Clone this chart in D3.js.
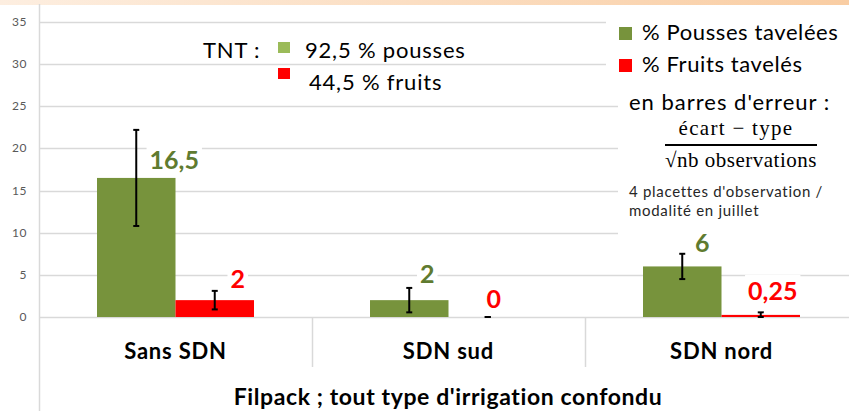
<html>
<head>
  <meta charset="utf-8">
  <script src="https://cdn.jsdelivr.net/npm/d3@7"></script>
  <style>
    body { margin: 0; background: #fff; }
    text { font-family: Lato, "Open Sans", sans-serif; }
  </style>
</head>
<body>
<script>
// categories and series
var categories = ["Sans SDN", "SDN sud", "SDN nord"];
var pousses = [16.5, 2, 6];          // % pousses tavelées
var fruits = [2, 0, 0.25];           // % fruits tavelés
var poussesErr = [5.7, 1.45, 1.5];   // écart-type / racine(nb obs)
var fruitsErr = [1.1, 0, 0.3];
var poussesLabels = ["16,5", "2", "6"];
var fruitsLabels = ["2", "0", "0,25"];
var yTicks = [0, 5, 10, 15, 20, 25, 30, 35];

// manual label nudges (dx from bar centre, dy from bar top), like the hand-moved labels in the slide
var nudgeP = [[38, -9], [18, -17], [20, -14]];
var nudgeF = [[23, -12], [6, -9], [12, -15]];

var W = 849, H = 411;
var green = "#77933c", red = "#ff0000", labelGreen = "#5f7b30", grid = "#d9d9d9";

var svg = d3.select("body").append("svg").attr("width", W).attr("height", H);

// pale orange strip at the top (slide frame)
var defs = svg.append("defs");
var grad = defs.append("linearGradient").attr("id", "topband");
grad.append("stop").attr("offset", "0%").attr("stop-color", "#fdeee0");
grad.append("stop").attr("offset", "100%").attr("stop-color", "#f9cda3");
svg.append("rect").attr("x", 0).attr("y", 0).attr("width", W).attr("height", 5).attr("fill", "url(#topband)");

var y = d3.scaleLinear().domain([0, 35]).range([317, 22]);
var x0 = d3.scaleBand().domain(categories).range([39, 858]);
var x1 = d3.scaleBand().domain(["p", "f"]).range([0, x0.bandwidth()]).paddingOuter(0.739);

// gridlines
svg.append("g").selectAll("line").data(yTicks).enter().append("line")
  .attr("x1", 39).attr("x2", W)
  .attr("y1", function (d) { return Math.round(y(d)) + 0.5; })
  .attr("y2", function (d) { return Math.round(y(d)) + 0.5; })
  .attr("stroke", grid).attr("stroke-width", 1.3);

// y tick labels
svg.append("g").selectAll("text").data(yTicks).enter().append("text")
  .attr("x", 27).attr("y", function (d) { return y(d) + 4; })
  .attr("text-anchor", "end").attr("fill", "#595959").style("font-size", "12px")
  .style("letter-spacing", "0.5px")
  .text(function (d) { return d; });

// left axis line + category separators
svg.append("line").attr("x1", 39.5).attr("x2", 39.5).attr("y1", 4).attr("y2", H)
  .attr("stroke", grid).attr("stroke-width", 1.5);
svg.append("g").selectAll("line").data(categories.slice(1)).enter().append("line")
  .attr("x1", function (d) { return x0(d) + 0.5; }).attr("x2", function (d) { return x0(d) + 0.5; })
  .attr("y1", y(0)).attr("y2", 367)
  .attr("stroke", grid).attr("stroke-width", 1.5);

// white boxes behind the legend / notes (they hide the gridlines)
svg.append("rect").attr("x", 606).attr("y", 10).attr("width", W - 606).attr("height", 78).attr("fill", "#fff");
svg.append("rect").attr("x", 618).attr("y", 88).attr("width", W - 618).attr("height", 150).attr("fill", "#fff");

// bars
var groups = svg.append("g").selectAll("g").data(categories).enter().append("g")
  .attr("transform", function (d) { return "translate(" + x0(d) + ",0)"; });

groups.append("rect")
  .attr("x", x1("p")).attr("width", x1.bandwidth())
  .attr("y", function (d, i) { return y(pousses[i]); })
  .attr("height", function (d, i) { return y(0) - y(pousses[i]); })
  .attr("fill", green);
groups.append("rect")
  .attr("x", x1("f")).attr("width", x1.bandwidth())
  .attr("y", function (d, i) { return y(fruits[i]); })
  .attr("height", function (d, i) { return y(0) - y(fruits[i]); })
  .attr("fill", red);

// error bars
function errBar(g, key, vals, errs) {
  var cx = x1(key) + x1.bandwidth() / 2;
  var e = g.append("g").attr("stroke", "#000").attr("stroke-width", 2);
  e.append("line").attr("x1", cx).attr("x2", cx)
    .attr("y1", function (d, i) { return y(vals[i] + errs[i]); })
    .attr("y2", function (d, i) { return y(Math.max(0, vals[i] - errs[i])); });
  e.append("line").attr("x1", cx - 3).attr("x2", cx + 3)
    .attr("y1", function (d, i) { return y(vals[i] + errs[i]); })
    .attr("y2", function (d, i) { return y(vals[i] + errs[i]); });
  e.append("line").attr("x1", cx - 3).attr("x2", cx + 3)
    .attr("y1", function (d, i) { return y(Math.max(0, vals[i] - errs[i])); })
    .attr("y2", function (d, i) { return y(Math.max(0, vals[i] - errs[i])); });
}
errBar(groups, "p", pousses, poussesErr);
errBar(groups, "f", fruits, fruitsErr);

// data labels with white background
function dataLabel(g, key, vals, labels, nudge, color) {
  var cx = x1(key) + x1.bandwidth() / 2;
  g.each(function (d, i) {
    var lg = d3.select(this).append("g");
    var t = lg.append("text")
      .attr("x", cx + nudge[i][0]).attr("y", y(vals[i]) + nudge[i][1])
      .attr("text-anchor", "middle").attr("fill", color)
      .style("font-size", "25px").style("font-weight", "bold")
      .text(labels[i]);
    var b = t.node().getBBox();
    lg.insert("rect", "text").attr("x", b.x - 3).attr("y", b.y).attr("width", b.width + 6)
      .attr("height", b.height).attr("fill", "#fff");
  });
}
dataLabel(groups, "p", pousses, poussesLabels, nudgeP, labelGreen);
dataLabel(groups, "f", fruits, fruitsLabels, nudgeF, red);

// category labels
groups.append("text")
  .attr("x", x0.bandwidth() / 2).attr("y", 359)
  .attr("text-anchor", "middle").attr("fill", "#000")
  .style("font-size", "22px").style("font-weight", "bold").style("letter-spacing", "0.8px")
  .text(function (d) { return d; });

// axis title
svg.append("text").attr("x", 448).attr("y", 405).attr("text-anchor", "middle")
  .style("font-size", "23px").style("font-weight", "bold").style("letter-spacing", "0.6px")
  .attr("fill", "#000")
  .text("Filpack ; tout type d'irrigation confondu");

// TNT box
var big = function (s) { return s.style("font-size", "22px").style("letter-spacing", "0.8px"); };
big(svg.append("text").attr("x", 203).attr("y", 58)).text("TNT :");
svg.append("rect").attr("x", 278).attr("y", 42).attr("width", 12).attr("height", 11).attr("fill", "#9bbb59");
big(svg.append("text").attr("x", 305).attr("y", 58)).text("92,5 % pousses");
svg.append("rect").attr("x", 278).attr("y", 68).attr("width", 12).attr("height", 11).attr("fill", red);
big(svg.append("text").attr("x", 309).attr("y", 90)).text("44,5 % fruits");

// legend
var legendItems = [["% Pousses tavelées", green], ["% Fruits tavelés", red]];
var lg = svg.append("g").selectAll("g").data(legendItems).enter().append("g")
  .attr("transform", function (d, i) { return "translate(619," + (27 + i * 32) + ")"; });
lg.append("rect").attr("width", 13).attr("height", 13).attr("fill", function (d) { return d[1]; });
lg.append("text").attr("x", 23).attr("y", 13).style("font-size", "22px").style("letter-spacing", "0.6px")
  .text(function (d) { return d[0]; });

// error bar note
svg.append("text").attr("x", 629).attr("y", 110).style("font-size", "22px").style("letter-spacing", "1px")
  .text("en barres d'erreur :");
svg.append("text").attr("x", 736).attr("y", 135).attr("text-anchor", "middle")
  .style("font-family", "'Liberation Serif', serif").style("font-size", "21px").style("letter-spacing", "1.3px")
  .text("écart − type");
svg.append("line").attr("x1", 665).attr("x2", 817).attr("y1", 145).attr("y2", 145)
  .attr("stroke", "#000").attr("stroke-width", 2);
svg.append("text").attr("x", 741).attr("y", 167).attr("text-anchor", "middle")
  .style("font-family", "'Liberation Serif', serif").style("font-size", "21px").style("letter-spacing", "0.5px")
  .text("√nb observations");
svg.append("text").attr("x", 629).attr("y", 197).style("font-size", "15px").style("letter-spacing", "0.7px")
  .attr("fill", "#262626").text("4 placettes d'observation /");
svg.append("text").attr("x", 629).attr("y", 216).style("font-size", "15px").style("letter-spacing", "0.7px")
  .attr("fill", "#262626").text("modalité en juillet");
</script>
</body>
</html>
